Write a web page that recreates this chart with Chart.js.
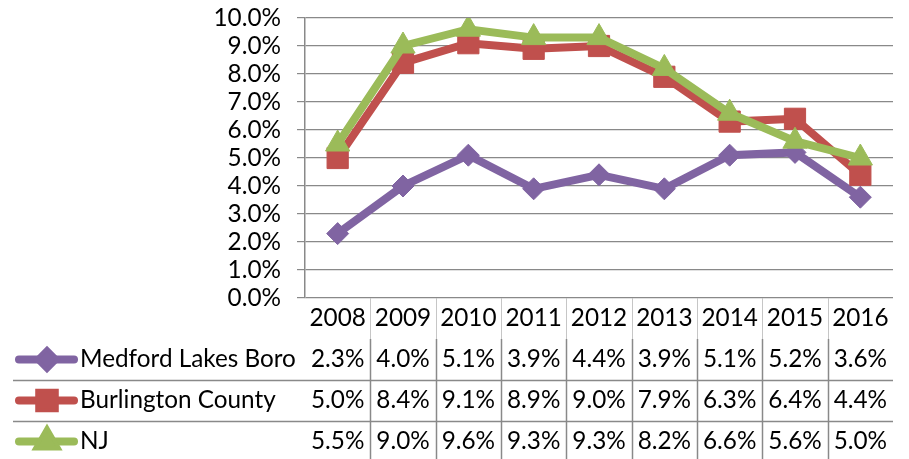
<!DOCTYPE html>
<html>
<head>
<meta charset="utf-8">
<script src="https://cdn.jsdelivr.net/npm/chart.js@4"></script>
<style>
  html, body { margin: 0; padding: 0; background: #fff; }
  #wrap { width: 909px; height: 459px; position: relative; }
</style>
</head>
<body>
<div id="wrap"><canvas id="myChart" width="909" height="459"></canvas></div>
<script>
// data
const years = ['2008', '2009', '2010', '2011', '2012', '2013', '2014', '2015', '2016'];
const medfordLakes = [2.3, 4.0, 5.1, 3.9, 4.4, 3.9, 5.1, 5.2, 3.6];
const burlington = [5.0, 8.4, 9.1, 8.9, 9.0, 7.9, 6.3, 6.4, 4.4];
const newJersey = [5.5, 9.0, 9.6, 9.3, 9.3, 8.2, 6.6, 5.6, 5.0];
const seriesNames = ['Medford Lakes Boro', 'Burlington County', 'NJ'];

const PURPLE = '#8064A2';
const RED = '#C0504D';
const GREEN = '#9BBB59';
const GRID = '#898989';
const FONT = 'Lato, "Open Sans", sans-serif';
const FSIZE = 24.3;

// draws the data table + legend keys under the plot (Excel style)
const dataTable = {
  id: 'dataTable',
  afterDraw(chart) {
    const ctx = chart.ctx;
    const area = chart.chartArea;
    const xs = chart.scales.x;
    const colW = (area.right - area.left) / years.length;
    const rowH = 41;
    const top = area.bottom;

    ctx.save();
    // header row separators (light)
    ctx.strokeStyle = '#c6c6c6';
    ctx.lineWidth = 1;
    for (let i = 1; i < years.length; i++) {
      const lx = Math.round(area.left + i * colW) + 0.5;
      ctx.beginPath();
      ctx.moveTo(lx, top);
      ctx.lineTo(lx, top + rowH);
      ctx.stroke();
    }
    // data rows separators (dark)
    ctx.strokeStyle = GRID;
    ctx.lineWidth = 1.5;
    for (let i = 1; i < years.length; i++) {
      const lx = Math.round(area.left + i * colW) + 0.5;
      ctx.beginPath();
      ctx.moveTo(lx, top + rowH);
      ctx.lineTo(lx, chart.height);
      ctx.stroke();
    }
    // row lines
    for (let r = 2; r <= 3; r++) {
      const ly = Math.round(top + r * rowH) + 0.5;
      ctx.beginPath();
      ctx.moveTo(13, ly);
      ctx.lineTo(area.right, ly);
      ctx.stroke();
    }

    ctx.fillStyle = '#000';
    ctx.font = FSIZE + 'px ' + FONT;
    ctx.textAlign = 'center';
    ctx.textBaseline = 'middle';
    years.forEach((y, i) => {
      ctx.fillText(y, xs.getPixelForValue(i), top + rowH / 2);
    });

    chart.data.datasets.forEach((ds, r) => {
      const cy = top + rowH * (r + 1) + rowH / 2;
      ds.data.forEach((v, i) => {
        ctx.textAlign = 'center';
        ctx.fillText(v.toFixed(1) + '%', xs.getPixelForValue(i), cy);
      });
      // legend key
      ctx.strokeStyle = ds.borderColor;
      ctx.lineWidth = 8;
      ctx.lineCap = 'round';
      ctx.beginPath();
      ctx.moveTo(19, cy);
      ctx.lineTo(74, cy);
      ctx.stroke();
      Chart.helpers.drawPoint(ctx, {
        pointStyle: ds.pointStyle,
        radius: ds.legendRadius,
        rotation: 0,
        borderWidth: 1
      }, 47, cy);
      ctx.fillStyle = ds.backgroundColor;
      ctx.fill();
      ctx.fillStyle = '#000';
      ctx.textAlign = 'left';
      ctx.fillText(ds.label, 80, cy);
    });
    ctx.restore();
  }
};

const ctx = document.getElementById('myChart').getContext('2d');

const myChart = new Chart(ctx, {
  type: 'line',
  data: {
    labels: years,
    datasets: [{
      label: seriesNames[0],
      data: medfordLakes,
      borderColor: PURPLE,
      backgroundColor: PURPLE,
      borderWidth: 8,
      pointStyle: 'rectRot',
      pointRadius: 11,
      legendRadius: 8,
      pointBorderWidth: 1,
      order: 2
    },
    {
      label: seriesNames[1],
      data: burlington,
      borderColor: RED,
      backgroundColor: RED,
      borderWidth: 8,
      pointStyle: 'rect',
      pointRadius: 15,
      legendRadius: 11,
      pointBorderWidth: 1,
      order: 1
    },
    {
      label: seriesNames[2],
      data: newJersey,
      borderColor: GREEN,
      backgroundColor: GREEN,
      borderWidth: 8,
      pointStyle: 'triangle',
      pointRadius: 14,
      legendRadius: 10,
      pointBorderWidth: 1,
      order: 0
    }]
  },
  options: {
    responsive: false,
    animation: false,
    layout: {
      padding: { top: 18, right: 14, bottom: 161, left: 0 }
    },
    plugins: {
      legend: { display: false },
      tooltip: { enabled: false }
    },
    scales: {
      x: {
        display: false,
        offset: true
      },
      y: {
        min: 0,
        max: 10,
        afterFit: (scale) => {
          scale.width = 305;
          scale.paddingTop = 0;
          scale.paddingBottom = 0;
        },
        border: { display: true, color: GRID, width: 1.5 },
        grid: { color: GRID, lineWidth: 1.2, tickLength: 8 },
        ticks: {
          stepSize: 1,
          autoSkip: false,
          padding: 16,
          color: '#000',
          font: { family: FONT, size: FSIZE },
          callback: (v) => v.toFixed(1) + '%'
        }
      }
    }
  },
  plugins: [dataTable]
});
</script>
</body>
</html>
